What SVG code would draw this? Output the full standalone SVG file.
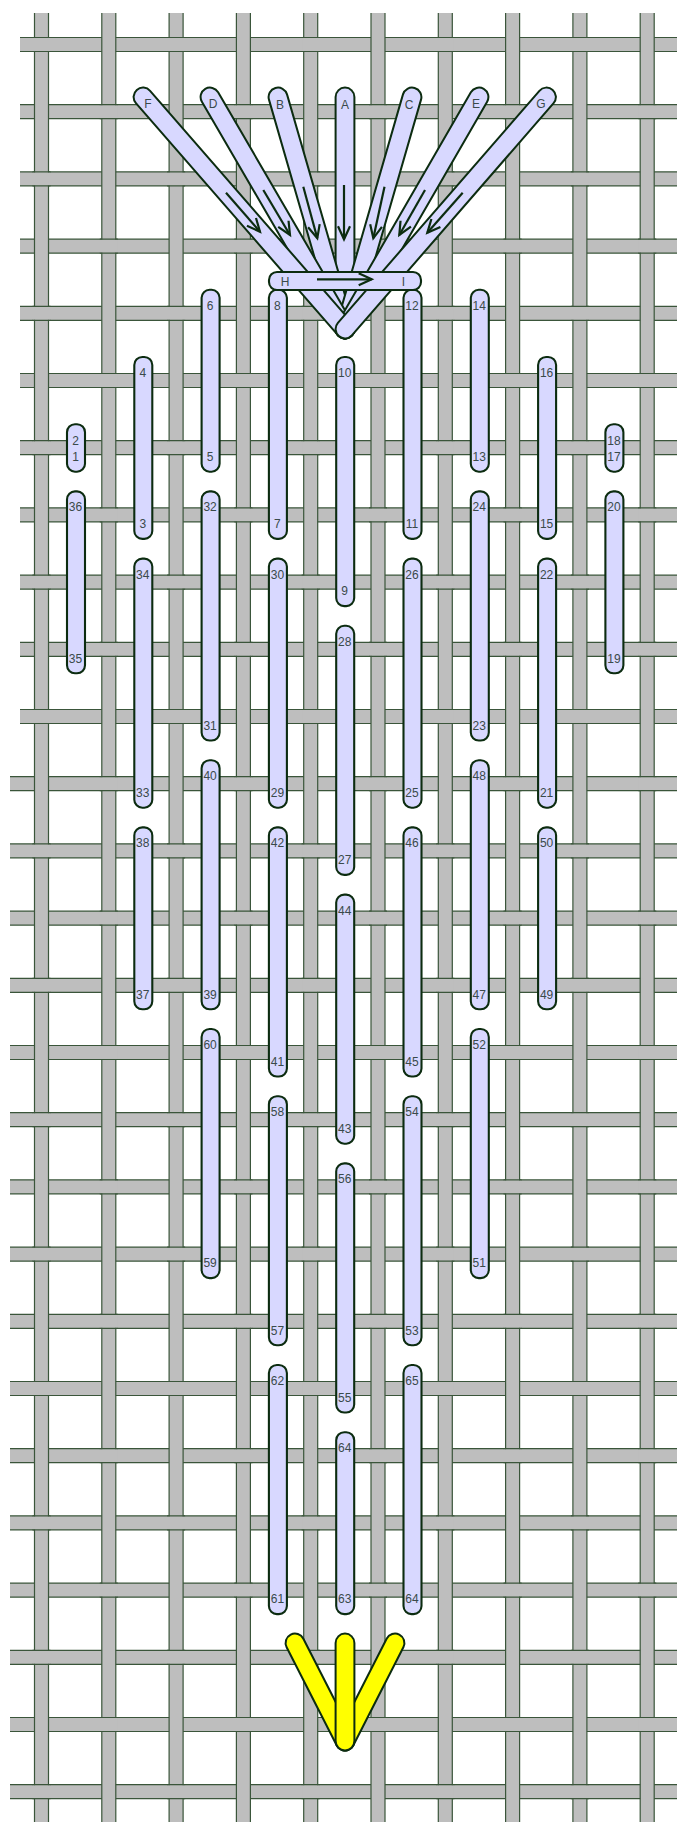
<svg xmlns="http://www.w3.org/2000/svg" xmlns:xlink="http://www.w3.org/1999/xlink" width="677" height="1822" viewBox="0 0 677 1822">
<style>
.tf{fill:#bebebe;stroke:none}
.tl{fill:none;stroke:#3a553a;stroke-width:1.2}
.s{fill:#d8d8ff;stroke:#0c2c10;stroke-width:2.1}
.so{stroke:#0c2c10;stroke-width:20.8;stroke-linecap:round}
.si{stroke:#d8d8ff;stroke-width:16.8;stroke-linecap:round}
.yo{stroke:#0c2c10;stroke-width:20.8;stroke-linecap:round}
.yi{stroke:#ffff00;stroke-width:16.8;stroke-linecap:round}
.a{fill:none;stroke:#0c2c10;stroke-width:2.2;marker-end:url(#ah)}
text{font-family:"Liberation Sans",Arial,sans-serif;font-size:12px;fill:#3a4a4a;text-anchor:middle}
</style>
<defs>
<marker id="ah" markerUnits="userSpaceOnUse" markerWidth="18" markerHeight="18" refX="14" refY="9" orient="auto"><path d="M1 3 L14 9 L1 15" fill="none" stroke="#0c2c10" stroke-width="2.2"/></marker>
<g id="r20"><rect class="tf" x="20" y="-7" width="657" height="14"/><path class="tl" d="M20 -7H677M20 7H677"/></g>
<g id="r10"><rect class="tf" x="10" y="-7" width="667" height="14"/><path class="tl" d="M10 -7H677M10 7H677"/></g>
<g id="col"><rect class="tf" x="-7" y="13" width="14" height="1809"/><path class="tl" d="M-7 13V1822M7 13V1822"/></g>
<g id="p"><rect class="tf" x="-8.5" y="-6.5" width="17" height="13"/><path class="tl" d="M-9 -7H9M-9 7H9"/></g>
<g id="ra"><use xlink:href="#p" href="#p" x="41.5"/><use xlink:href="#p" href="#p" x="176.1"/><use xlink:href="#p" href="#p" x="310.7"/><use xlink:href="#p" href="#p" x="445.3"/><use xlink:href="#p" href="#p" x="579.9"/></g>
<g id="rb"><use xlink:href="#p" href="#p" x="108.8"/><use xlink:href="#p" href="#p" x="243.4"/><use xlink:href="#p" href="#p" x="378"/><use xlink:href="#p" href="#p" x="512.6"/><use xlink:href="#p" href="#p" x="647.2"/></g>
</defs>
<rect width="677" height="1822" fill="#ffffff"/>
<g id="weave">
<use href="#r20" y="44.5"/><use href="#r20" y="111.7"/><use href="#r20" y="178.9"/><use href="#r20" y="246.1"/><use href="#r20" y="313.3"/><use href="#r20" y="380.5"/><use href="#r20" y="447.7"/><use href="#r20" y="514.9"/><use href="#r20" y="582.1"/><use href="#r20" y="649.3"/><use href="#r20" y="716.5"/>
<use href="#r10" y="783.7"/><use href="#r10" y="850.9"/><use href="#r10" y="918.1"/><use href="#r10" y="985.3"/><use href="#r10" y="1052.5"/><use href="#r10" y="1119.7"/><use href="#r10" y="1186.9"/><use href="#r10" y="1254.1"/><use href="#r10" y="1321.3"/><use href="#r10" y="1388.5"/><use href="#r10" y="1455.7"/><use href="#r10" y="1522.9"/><use href="#r10" y="1590.1"/><use href="#r10" y="1657.3"/><use href="#r10" y="1724.5"/><use href="#r10" y="1791.7"/>
<use href="#col" x="41.5"/><use href="#col" x="108.8"/><use href="#col" x="176.1"/><use href="#col" x="243.4"/><use href="#col" x="310.7"/><use href="#col" x="378"/><use href="#col" x="445.3"/><use href="#col" x="512.6"/><use href="#col" x="579.9"/><use href="#col" x="647.2"/>
<use href="#ra" y="44.5"/><use href="#rb" y="111.7"/><use href="#ra" y="178.9"/><use href="#rb" y="246.1"/><use href="#ra" y="313.3"/><use href="#rb" y="380.5"/><use href="#ra" y="447.7"/><use href="#rb" y="514.9"/><use href="#ra" y="582.1"/><use href="#rb" y="649.3"/><use href="#ra" y="716.5"/><use href="#rb" y="783.7"/><use href="#ra" y="850.9"/><use href="#rb" y="918.1"/><use href="#ra" y="985.3"/><use href="#rb" y="1052.5"/><use href="#ra" y="1119.7"/><use href="#rb" y="1186.9"/><use href="#ra" y="1254.1"/><use href="#rb" y="1321.3"/><use href="#ra" y="1388.5"/><use href="#rb" y="1455.7"/><use href="#ra" y="1522.9"/><use href="#rb" y="1590.1"/><use href="#ra" y="1657.3"/><use href="#rb" y="1724.5"/><use href="#ra" y="1791.7"/>
</g>
<g id="stitches">
<g id="s1"><rect class="s" x="67" y="424.2" width="18" height="47.5" rx="8"/><text x="75.5" y="444.5">2</text><text x="75.5" y="461">1</text></g>
<g id="s18"><rect class="s" x="605.4" y="424.2" width="18" height="47.5" rx="8"/><text x="613.9" y="444.5">18</text><text x="613.9" y="461">17</text></g>
<g id="s3"><rect class="s" x="134.3" y="357" width="18" height="181.9" rx="8"/><text x="142.8" y="377">4</text><text x="142.8" y="528.2">3</text></g>
<g id="s5"><rect class="s" x="201.6" y="289.8" width="18" height="181.9" rx="8"/><text x="210.1" y="309.8">6</text><text x="210.1" y="461">5</text></g>
<g id="s7"><rect class="s" x="268.9" y="289.8" width="18" height="249.1" rx="8"/><text x="277.4" y="309.8">8</text><text x="277.4" y="528.2">7</text></g>
<g id="s9"><rect class="s" x="336.2" y="357" width="18" height="249.1" rx="8"/><text x="344.7" y="377">10</text><text x="344.7" y="595.4">9</text></g>
<g id="s11"><rect class="s" x="403.5" y="289.8" width="18" height="249.1" rx="8"/><text x="412" y="309.8">12</text><text x="412" y="528.2">11</text></g>
<g id="s13"><rect class="s" x="470.8" y="289.8" width="18" height="181.9" rx="8"/><text x="479.3" y="309.8">14</text><text x="479.3" y="461">13</text></g>
<g id="s15"><rect class="s" x="538.1" y="357" width="18" height="181.9" rx="8"/><text x="546.6" y="377">16</text><text x="546.6" y="528.2">15</text></g>
<g id="s19"><rect class="s" x="605.4" y="491.4" width="18" height="181.9" rx="8"/><text x="613.9" y="511.4">20</text><text x="613.9" y="662.6">19</text></g>
<g id="s21"><rect class="s" x="538.1" y="558.6" width="18" height="249.1" rx="8"/><text x="546.6" y="578.6">22</text><text x="546.6" y="797">21</text></g>
<g id="s23"><rect class="s" x="470.8" y="491.4" width="18" height="249.1" rx="8"/><text x="479.3" y="511.4">24</text><text x="479.3" y="729.8">23</text></g>
<g id="s25"><rect class="s" x="403.5" y="558.6" width="18" height="249.1" rx="8"/><text x="412" y="578.6">26</text><text x="412" y="797">25</text></g>
<g id="s27"><rect class="s" x="336.2" y="625.8" width="18" height="249.1" rx="8"/><text x="344.7" y="645.8">28</text><text x="344.7" y="864.2">27</text></g>
<g id="s29"><rect class="s" x="268.9" y="558.6" width="18" height="249.1" rx="8"/><text x="277.4" y="578.6">30</text><text x="277.4" y="797">29</text></g>
<g id="s31"><rect class="s" x="201.6" y="491.4" width="18" height="249.1" rx="8"/><text x="210.1" y="511.4">32</text><text x="210.1" y="729.8">31</text></g>
<g id="s33"><rect class="s" x="134.3" y="558.6" width="18" height="249.1" rx="8"/><text x="142.8" y="578.6">34</text><text x="142.8" y="797">33</text></g>
<g id="s35"><rect class="s" x="67" y="491.4" width="18" height="181.9" rx="8"/><text x="75.5" y="511.4">36</text><text x="75.5" y="662.6">35</text></g>
<g id="s37"><rect class="s" x="134.3" y="827.4" width="18" height="181.9" rx="8"/><text x="142.8" y="847.4">38</text><text x="142.8" y="998.6">37</text></g>
<g id="s39"><rect class="s" x="201.6" y="760.2" width="18" height="249.1" rx="8"/><text x="210.1" y="780.2">40</text><text x="210.1" y="998.6">39</text></g>
<g id="s41"><rect class="s" x="268.9" y="827.4" width="18" height="249.1" rx="8"/><text x="277.4" y="847.4">42</text><text x="277.4" y="1065.8">41</text></g>
<g id="s43"><rect class="s" x="336.2" y="894.6" width="18" height="249.1" rx="8"/><text x="344.7" y="914.6">44</text><text x="344.7" y="1133">43</text></g>
<g id="s45"><rect class="s" x="403.5" y="827.4" width="18" height="249.1" rx="8"/><text x="412" y="847.4">46</text><text x="412" y="1065.8">45</text></g>
<g id="s47"><rect class="s" x="470.8" y="760.2" width="18" height="249.1" rx="8"/><text x="479.3" y="780.2">48</text><text x="479.3" y="998.6">47</text></g>
<g id="s49"><rect class="s" x="538.1" y="827.4" width="18" height="181.9" rx="8"/><text x="546.6" y="847.4">50</text><text x="546.6" y="998.6">49</text></g>
<g id="s51"><rect class="s" x="470.8" y="1029" width="18" height="249.1" rx="8"/><text x="479.3" y="1049">52</text><text x="479.3" y="1267.4">51</text></g>
<g id="s53"><rect class="s" x="403.5" y="1096.2" width="18" height="249.1" rx="8"/><text x="412" y="1116.2">54</text><text x="412" y="1334.6">53</text></g>
<g id="s55"><rect class="s" x="336.2" y="1163.4" width="18" height="249.1" rx="8"/><text x="344.7" y="1183.4">56</text><text x="344.7" y="1401.8">55</text></g>
<g id="s57"><rect class="s" x="268.9" y="1096.2" width="18" height="249.1" rx="8"/><text x="277.4" y="1116.2">58</text><text x="277.4" y="1334.6">57</text></g>
<g id="s59"><rect class="s" x="201.6" y="1029" width="18" height="249.1" rx="8"/><text x="210.1" y="1049">60</text><text x="210.1" y="1267.4">59</text></g>
<g id="s61"><rect class="s" x="268.9" y="1365" width="18" height="249.1" rx="8"/><text x="277.4" y="1385">62</text><text x="277.4" y="1603.4">61</text></g>
<g id="s63"><rect class="s" x="336.2" y="1432.2" width="18" height="181.9" rx="8"/><text x="344.7" y="1452.2">64</text><text x="344.7" y="1603.4">63</text></g>
<g id="s64"><rect class="s" x="403.5" y="1365" width="18" height="249.1" rx="8"/><text x="412" y="1385">65</text><text x="412" y="1603.4">64</text></g>
</g>
<g id="fan">
<g id="fA"><line class="so" x1="345" y1="97" x2="345" y2="329"/><line class="si" x1="345" y1="97" x2="345" y2="329"/><text x="345" y="109">A</text></g>
<g id="fB"><line class="so" x1="278" y1="97" x2="345" y2="329"/><line class="si" x1="278" y1="97" x2="345" y2="329"/><text x="280" y="109">B</text></g>
<g id="fC"><line class="so" x1="412" y1="97" x2="345" y2="329"/><line class="si" x1="412" y1="97" x2="345" y2="329"/><text x="409" y="109">C</text></g>
<g id="fD"><line class="so" x1="210" y1="97" x2="345" y2="329"/><line class="si" x1="210" y1="97" x2="345" y2="329"/><text x="213" y="108">D</text></g>
<g id="fE"><line class="so" x1="479" y1="97" x2="345" y2="329"/><line class="si" x1="479" y1="97" x2="345" y2="329"/><text x="476" y="108">E</text></g>
<g id="fF"><line class="so" x1="143" y1="97" x2="345" y2="329"/><line class="si" x1="143" y1="97" x2="345" y2="329"/><text x="148" y="108">F</text></g>
<g id="fG"><line class="so" x1="546.5" y1="97" x2="345" y2="329"/><line class="si" x1="546.5" y1="97" x2="345" y2="329"/><text x="541" y="108">G</text></g>
<g id="fHI"><rect class="s" x="269" y="272" width="152" height="18" rx="8"/><text x="285" y="286">H</text><text x="403.5" y="286">I</text></g>
</g>
<g id="connectors">
<line class="a" x1="226" y1="192.7" x2="260" y2="231.7"/>
<line class="a" x1="263.3" y1="190" x2="290" y2="235"/>
<line class="a" x1="303.3" y1="186.7" x2="317.3" y2="238.3"/>
<line class="a" x1="344" y1="185" x2="344" y2="239.3"/>
<line class="a" x1="384.5" y1="186.7" x2="373.3" y2="238.3"/>
<line class="a" x1="425" y1="190" x2="399.3" y2="235"/>
<line class="a" x1="462.7" y1="192.7" x2="427.3" y2="232.7"/>
<line class="a" x1="317" y1="279.3" x2="371.7" y2="279.3"/>
</g>
<g id="yellow">
<g id="y1"><line class="yo" x1="295" y1="1643" x2="345" y2="1741"/><line class="yi" x1="295" y1="1643" x2="345" y2="1741"/></g>
<g id="y2"><line class="yo" x1="395" y1="1643" x2="345" y2="1741"/><line class="yi" x1="395" y1="1643" x2="345" y2="1741"/></g>
<g id="y3"><line class="yo" x1="345" y1="1643" x2="345" y2="1741"/><line class="yi" x1="345" y1="1643" x2="345" y2="1741"/></g>
</g>
</svg>
